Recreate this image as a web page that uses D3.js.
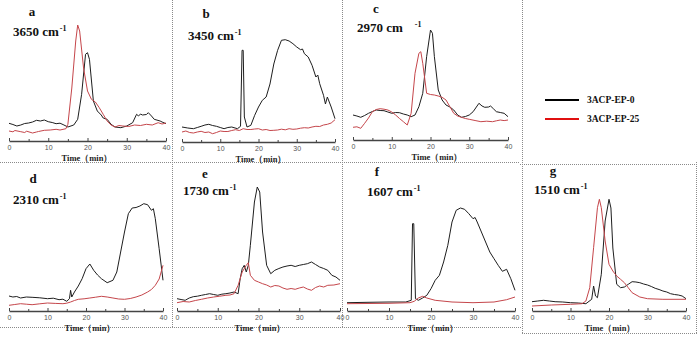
<!DOCTYPE html>
<html>
<head>
<meta charset="utf-8">
<script src="https://cdn.jsdelivr.net/npm/d3@7"></script>
<style>
  body { margin: 0; background: #fff; }
  svg { display: block; }
</style>
</head>
<body>
<svg id="chart" width="700" height="338"></svg>
<script>
// x ticks shared by every panel
const xTicks = [0, 10, 20, 30, 40]
const xMinor = [5, 15, 25, 35]
const seriesNames = ['3ACP-EP-0', '3ACP-EP-25']

// [time (min), intensity (a.u.)]
const a_black = [[0,17.7],[1,16.5],[2,15],[3,16],[4,17.5],[5,18],[6,19],[7,20.7],[8,20],[9,21],[10,19.3],[11,18.5],[12,17.3],[13,17.8],[14,16],[15,14],[16.5,16],[17.5,21.7],[18.5,46.7],[19.5,86.7],[20,88.3],[20.5,81.7],[21.5,40],[22.5,30],[23.5,26],[24,23],[25,21.7],[26,16.7],[27,14],[28.5,13.3],[30,15],[31.5,18.3],[32.5,26.7],[33,25],[33.5,27],[34,26],[35,26.5],[35.5,28.3],[36.3,25],[37,21.7],[38.5,20],[39,19],[40,17.3]]
const a_red = [[0,10],[1,9.2],[1.5,10.5],[3,9.3],[4,8.5],[4.5,9.8],[6,8],[7,9],[7.5,9.5],[9,10.7],[10.5,11],[12,11.7],[13,11],[14.5,12.3],[15,16.7],[16,53],[17,100],[17.5,116],[18,110],[19,73],[20,50],[21,41.7],[22,39],[23,33.3],[24,26.7],[25,20],[26,16],[27,14],[28,15.5],[29,15],[30.5,14.5],[32,16],[33.5,15.5],[35,16.7],[36.5,16],[38,18.3],[39,17],[40,18]]

const b_black = [[0,15],[1.5,14],[3,13.3],[4,14.5],[5,15.7],[6,17],[7,17.7],[8,16.5],[9,15.7],[10,14.5],[11,13.3],[12,14.5],[13,15],[14.5,13.3],[15.3,15.7],[15.7,91.7],[16,91.7],[16.3,25],[17,15],[18,16.7],[19,26.7],[20,35],[21,41.7],[22,45],[23,58],[24,78],[25,91.7],[26,101.7],[27,102.3],[28,101],[29,98.3],[30,95],[31,92.3],[31.5,93],[32,88.3],[33,85],[34,76.7],[35,65],[35.5,67],[36,58.3],[37,46.7],[37.5,38],[38,45],[39,35],[40,23.3]]
const b_red = [[0,10],[1,11],[2,9.5],[3,9],[4,10],[5,10.7],[6,9.5],[7,10],[8,8.3],[9,9.5],[10,11],[11,10.5],[12,10.5],[13,11.5],[14,12.3],[15,11.5],[16,13.3],[17,12.5],[18,12.5],[19,13],[20,13.3],[21,12],[22,12.5],[23,11.5],[24,11.7],[25,12],[26,12.8],[27,12.2],[28,13.3],[29,12.7],[30,13],[31,13.8],[32,14.3],[33,14],[34,15],[35,15.7],[36,15.5],[37,17],[38,17.7],[39,19],[40,22.3]]

const c_black = [[0,25],[1,24],[2,22.7],[3,24.5],[4,26.7],[5,28.5],[6,30],[7,29.5],[8,29.3],[9,28],[10,26.7],[11,27.5],[12,27.3],[13,26],[14,25],[15,23.3],[16,25],[17,33.3],[18,46.7],[19,83.3],[20,110],[20.5,106.7],[21,83.3],[22,50],[23,40],[24,35],[25,33],[26,30],[27,25],[28,22.7],[29,23.5],[30,25],[31,28.3],[32.5,36.7],[33.3,34],[34,32.7],[35,33],[35.5,34],[36.3,31],[37,28.3],[38,27.5],[39,26.7],[40,23.3]]
const c_red = [[0,12.7],[1,13.2],[2,11.7],[3,16.7],[4,22],[5,28.3],[6,30.5],[7,31.3],[8,30.8],[9,30],[10,28],[11,25],[12,21.5],[13,18.3],[14,15],[15,26.7],[16,66.7],[17,86.7],[17.5,88.3],[18,76.7],[19,46.7],[20,45.5],[21,45],[22,44],[23,42.7],[24,40],[25,33.3],[26,26.7],[27,24],[28,22.7],[29,21.5],[30,20.7],[31.5,19.5],[33,18.3],[34.5,18.8],[36,18.3],[37,19.2],[38,20],[39,19.4],[40,20]]

const d_black = [[0,15],[1,14],[2,14.5],[3,13],[4.5,14],[6,13.7],[8,13.2],[10,12.3],[11.5,12.8],[13,11.3],[14,11.8],[15,9.7],[15.7,12.3],[16,20.7],[16.3,14],[17,19],[18,25],[19,32.3],[20,42.3],[21,47],[22,40.7],[23,36],[24,32.3],[25.5,28.3],[27,30.7],[28,39],[29,59],[30,79],[31,97.3],[32,103],[33,103.5],[34,105],[35,107.3],[36,106.3],[37,100.7],[37.5,102.3],[38,92.3],[39,62.3],[40,30.7]]
const d_red = [[0,5.7],[1.5,6.5],[3,7.3],[4.5,6.8],[6,6.3],[8,7.2],[10,8],[12,7.6],[14,7.3],[15,7.8],[16,9],[17,10.5],[18,11.7],[19.5,12.2],[21,13],[22.5,13.8],[24,14.7],[25.5,14],[27,13],[28.5,12],[30,11.7],[31.5,12.5],[33,14],[34.5,16],[36,19],[37,21.5],[38,25.7],[39,32],[40,45.7]]

const e_black = [[0,12.3],[1,11.5],[2,10.7],[3,13],[4,14.3],[5,14.8],[6,15.7],[7,16.5],[8,17.3],[9,16.5],[10,15.7],[11,16.8],[12,17.3],[13,18],[14,19],[15,17.3],[15.5,32.3],[16,42.3],[16.5,45.7],[17,39],[17.5,45.7],[18,65.7],[19,109],[19.7,124],[20.3,119],[21,79],[22,45.7],[23,37.3],[24,40.7],[25,42.5],[26,44],[27,45],[28,45.7],[29,44.5],[30,45.7],[31,46.5],[32,47.3],[33,49],[34,46.5],[35,44],[36,42.5],[37,40.7],[38,35.7],[39,34],[40,30.7]]
const e_red = [[0,8.3],[1.5,9.5],[3,9],[4.5,10.5],[6,11.7],[7.5,13],[9,14],[10.5,14.8],[12,15.7],[13,16],[14,17.3],[15,25.7],[16,39],[17,45.7],[17.5,48.3],[18,35.7],[19,30.7],[20,29],[21,27.3],[22,26],[23,24],[24,25.5],[25,25],[26,23],[27,21.7],[28,22.5],[29,21.7],[30,23],[31,24],[32,22],[33,20.7],[34,23.5],[35,25],[36,24],[37,25.7],[38.5,26],[40,27.3]]

const f_black = [[0,8.3],[5,8.7],[10,9],[14,9],[15.3,10.7],[15.6,87.3],[15.9,87.3],[16.3,12.3],[17,10.7],[18,13],[19,15.7],[20,22.3],[21,30.7],[22,35.7],[23,49],[24,65.7],[25,89],[26,100.7],[27,103],[28,101.7],[29,97.3],[30,92.3],[30.5,93.5],[31,89],[32,79],[33,69],[34,59],[35,52.3],[36,45.7],[37,39.7],[38,41.7],[39,32.3],[40,20.7]]
const f_red = [[0,7.3],[10,7.7],[15,8.3],[16,9.7],[17,13],[18,14.7],[19,13],[21,10.7],[25,9],[30,8.3],[35,9],[38,11.3],[40,14]]

const g_black = [[0,9.3],[1.5,10],[3,10.7],[4.5,10],[6,9.3],[8,9],[10,8.3],[12,8],[14,7.3],[15.5,11.7],[16,25],[16.5,15],[17,13.3],[18,36.7],[19,90],[20,111.7],[20.5,103],[21,63],[22,26.7],[23,23.3],[24,24],[25,26.7],[26,29.3],[27,29],[28,28.3],[29,27],[30,26],[31,24.5],[32,22.7],[33,21.5],[34,20],[35,19],[36,17.3],[37,16.5],[38,16],[39,15],[40,12.3]]
const g_red = [[0,5],[5,6],[10,6.7],[13,7.3],[14,10],[15,23.3],[16,63.3],[17,103.3],[17.5,111.7],[18,103.3],[19,70],[20,46.7],[21,40],[22,35],[23,31.7],[24,28.3],[25,23.3],[26,18.3],[28,14],[30,12.3],[34,11.7],[40,11.7]]

const panelLetters = ['a', 'b', 'c', 'd', 'e', 'f', 'g']
const panelBands = ['3650', '3450', '2970', '2310', '1730', '1607', '1510']

// layout of each panel on the page
const panels = [
  { black: a_black, red: a_red, x0: 9, x1: 166, axisY: 141, letter: [32, 16], band: [13, 36], timeX: 87 },
  { black: b_black, red: b_red, x0: 182, x1: 335, axisY: 142, letter: [206, 18], band: [188, 40], timeX: 261 },
  { black: c_black, red: c_red, x0: 353, x1: 508, axisY: 140, letter: [376, 13], band: [357, 32], timeX: 437, gap: true },
  { black: d_black, red: d_red, x0: 9, x1: 163, axisY: 311, letter: [33, 183], band: [13, 204], timeX: 90 },
  { black: e_black, red: e_red, x0: 177, x1: 340, axisY: 311, letter: [205, 178], band: [183, 195], timeX: 260 },
  { black: f_black, red: f_red, x0: 347, x1: 515, axisY: 311, letter: [377, 176], band: [367, 196], timeX: 433 },
  { black: g_black, red: g_red, x0: 532, x1: 686, axisY: 311, letter: [553, 175], band: [534, 194], timeX: 610 }
]

const svg = d3.select('#chart')
const serif = 'Liberation Serif, Times New Roman, serif'

// dotted frame lines between panels
const frame = svg.append('g')
  .attr('stroke', '#8a8a8a')
  .attr('stroke-width', 1)
  .attr('stroke-dasharray', '1,1')
  .attr('fill', 'none')
const frameLines = [
  [0, 162.5, 520, 162.5], [520, 164.5, 698, 164.5],
  [172.5, 0, 172.5, 328], [342.5, 0, 342.5, 328], [522.5, 0, 522.5, 334],
  [696.5, 162, 696.5, 334],
  [0, 327.5, 522, 327.5], [522, 333.5, 697, 333.5]
]
frame.selectAll('line')
  .data(frameLines)
  .join('line')
  .attr('x1', d => d[0]).attr('y1', d => d[1])
  .attr('x2', d => d[2]).attr('y2', d => d[3])

panels.forEach((p, i) => {
  const x = d3.scaleLinear().domain([0, 40]).range([p.x0, p.x1])
  const y = d3.scaleLinear().domain([0, 130]).range([p.axisY, p.axisY - 130])
  const g = svg.append('g')

  const axis = g.append('g')
    .attr('transform', `translate(0,${p.axisY})`)
    .call(d3.axisBottom(x).tickValues(xTicks).tickSizeInner(-3).tickSizeOuter(0).tickPadding(4))
  axis.select('.domain').attr('stroke', '#444').attr('stroke-width', 1.6)
  axis.selectAll('.tick line').attr('stroke', '#444')
  axis.selectAll('.tick text')
    .attr('font-family', 'Liberation Sans, Arial, sans-serif')
    .attr('font-size', 7)
    .attr('fill', '#555')

  g.append('g')
    .attr('transform', `translate(0,${p.axisY})`)
    .call(d3.axisBottom(x).tickValues(xMinor).tickSizeInner(-2).tickSizeOuter(0).tickFormat(''))
    .call(s => s.select('.domain').remove())
    .selectAll('.tick line').attr('stroke', '#444')

  g.append('text')
    .attr('x', p.timeX)
    .attr('y', p.axisY + 20)
    .attr('text-anchor', 'middle')
    .attr('font-family', serif)
    .attr('font-weight', 'bold')
    .attr('font-size', 8.5)
    .attr('fill', '#222')
    .text('Time（min）')

  const line = d3.line()
    .x(d => x(d[0]))
    .y(d => y(d[1]))

  g.append('path')
    .datum(p.black)
    .attr('fill', 'none')
    .attr('stroke', '#1e1e1e')
    .attr('stroke-width', 1)
    .attr('d', line)

  g.append('path')
    .datum(p.red)
    .attr('fill', 'none')
    .attr('stroke', '#c5464b')
    .attr('stroke-width', 1)
    .attr('d', line)

  g.append('text')
    .attr('x', p.letter[0])
    .attr('y', p.letter[1])
    .attr('text-anchor', 'middle')
    .attr('font-family', serif)
    .attr('font-weight', 'bold')
    .attr('font-size', 13)
    .attr('fill', '#111')
    .text(panelLetters[i])

  const band = g.append('text')
    .attr('x', p.band[0])
    .attr('y', p.band[1])
    .attr('font-family', serif)
    .attr('font-weight', 'bold')
    .attr('font-size', 13)
    .attr('fill', '#111')
  band.append('tspan').text(panelBands[i] + ' cm')
  band.append('tspan')
    .attr('dx', p.gap ? 12 : 1)
    .attr('dy', -5)
    .attr('font-size', 8)
    .text('-1')
})

// legend
const legend = svg.append('g')
  .selectAll('g')
  .data(seriesNames)
  .join('g')
  .attr('transform', (d, i) => `translate(545,${100 + i * 19})`)
legend.append('line')
  .attr('x1', 0).attr('x2', 34)
  .attr('stroke', (d, i) => i ? '#e01010' : '#000')
  .attr('stroke-width', 2)
legend.append('text')
  .attr('x', 42)
  .attr('dy', '0.35em')
  .attr('font-family', serif)
  .attr('font-weight', 'bold')
  .attr('font-size', 9.5)
  .attr('fill', '#111')
  .text(d => d)
</script>
</body>
</html>
